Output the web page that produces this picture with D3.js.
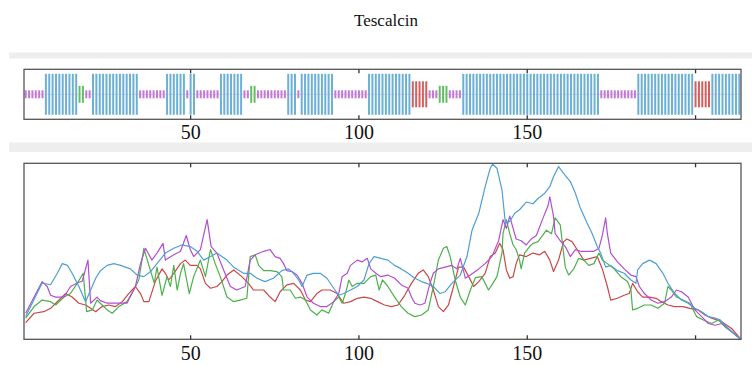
<!DOCTYPE html>
<html>
<head>
<meta charset="utf-8">
<script src="https://cdn.jsdelivr.net/npm/d3@7/dist/d3.min.js"></script>
<style>
  body { margin: 0; background: #fff; }
  svg { display: block; }
</style>
</head>
<body>
<div id="chart"></div>
<script>
// secondary structure segments: [type, first residue, last residue]
const ssSegments = [
  ['coil', 1, 6], ['helix', 7, 16], ['turn', 17, 18], ['coil', 19, 20],
  ['helix', 21, 34], ['coil', 35, 42], ['helix', 43, 48], ['coil', 49, 49],
  ['helix', 50, 51], ['coil', 52, 58], ['helix', 59, 65], ['coil', 66, 67],
  ['turn', 68, 69], ['coil', 70, 78], ['helix', 79, 81], ['coil', 82, 82],
  ['helix', 83, 92], ['coil', 93, 102], ['helix', 103, 115], ['strand', 116, 120],
  ['coil', 121, 123], ['turn', 124, 126], ['coil', 127, 130], ['helix', 131, 171],
  ['coil', 172, 182], ['helix', 183, 199], ['strand', 200, 204], ['helix', 205, 213]
];
const tickValues = [50, 100, 150, 200];
const tickLabels = ['50', '100', '150', ''];

// profile series: [residue, value]
const blueSeries = [
  [1, 0.13], [5.9, 0.32], [8.4, 0.31], [10.4, 0.375], [11.9, 0.43], [13.4, 0.42], [14.8, 0.375],
  [16.8, 0.30], [18.8, 0.214], [20.3, 0.28], [21.8, 0.347], [23.2, 0.39], [25.2, 0.42], [27.2, 0.43],
  [29.2, 0.42], [32.1, 0.40], [34.1, 0.365], [36.1, 0.356], [38.1, 0.385], [40, 0.43], [42.5, 0.49],
  [45, 0.517], [47.4, 0.536], [49.9, 0.527], [51.9, 0.50], [53.9, 0.45], [55.9, 0.47], [57.8, 0.49],
  [60.8, 0.45], [62.8, 0.41], [65.7, 0.375], [67.7, 0.375], [69.7, 0.347], [72.1, 0.328], [74.6, 0.347],
  [77.1, 0.39], [79.1, 0.40], [80.6, 0.375], [82.1, 0.337], [83.1, 0.30], [84.6, 0.365], [86.5, 0.375],
  [88.5, 0.375], [90.5, 0.347], [92.5, 0.29], [94, 0.25], [95.5, 0.26], [97.5, 0.28], [99.5, 0.30],
  [101.5, 0.337], [103, 0.43], [104.5, 0.47], [106.5, 0.46], [108.6, 0.45], [110.6, 0.42], [112.6, 0.40],
  [114.6, 0.375], [116.6, 0.347], [118.6, 0.328], [120.1, 0.318], [122.1, 0.30], [124.1, 0.26],
  [125.6, 0.27], [127.6, 0.318], [130.1, 0.365], [132.1, 0.47], [133.6, 0.62], [135.6, 0.716],
  [137.5, 0.867], [139, 0.972], [139.7, 0.995], [141, 0.972], [142.5, 0.848], [143.5, 0.66],
  [144.8, 0.67], [146.3, 0.716], [147.7, 0.736], [149.7, 0.78], [151.7, 0.77], [153.2, 0.80],
  [155.2, 0.83], [156.7, 0.867], [157.8, 0.924], [159.3, 0.981], [160.8, 0.943], [162.8, 0.896],
  [164.3, 0.83], [165.8, 0.744], [167.8, 0.66], [169.3, 0.60], [170.8, 0.527], [171.8, 0.49],
  [173.3, 0.41], [174.8, 0.42], [176.8, 0.39], [178.8, 0.375], [180.8, 0.337], [182.3, 0.318],
  [182.8, 0.394], [184.3, 0.43], [186.3, 0.45], [188.3, 0.43], [190.3, 0.375], [191.8, 0.318],
  [193.8, 0.26], [195.8, 0.223], [197.8, 0.205], [199.8, 0.176], [201.8, 0.157], [203.8, 0.129],
  [205.8, 0.12], [207.3, 0.11], [209.8, 0.06], [211.8, 0.025], [213.5, 0]
];
const purpleSeries = [
  [1, 0.148], [5.9, 0.328], [7.4, 0.30], [8.4, 0.25], [9.9, 0.24], [12.4, 0.24], [14.3, 0.30],
  [16.3, 0.32], [17.8, 0.33], [19.5, 0.45], [20.3, 0.205], [22.2, 0.24], [23.2, 0.22], [25.2, 0.205],
  [28.7, 0.205], [31.1, 0.205], [33.6, 0.30], [35.1, 0.43], [36.6, 0.517], [38.5, 0.45], [40, 0.49],
  [41.8, 0.545], [42.5, 0.45], [45, 0.48], [47, 0.50], [48.7, 0.59], [49.9, 0.51], [50.9, 0.47],
  [52.9, 0.51], [54.9, 0.68], [56.1, 0.527], [57.8, 0.49], [59.8, 0.394], [61.8, 0.30], [63.7, 0.28],
  [66.2, 0.30], [67.7, 0.45], [69.2, 0.48], [71.7, 0.50], [73.6, 0.51], [75.1, 0.47], [76.6, 0.46],
  [77.6, 0.43], [78.6, 0.39], [80.1, 0.385], [81.6, 0.365], [83.1, 0.318], [84.6, 0.24], [86.5, 0.205],
  [88.5, 0.186], [90.5, 0.186], [92.5, 0.214], [94, 0.26], [95, 0.356], [96.5, 0.375], [97.5, 0.42],
  [99.5, 0.45], [101, 0.44], [102.5, 0.46], [103.5, 0.40], [105, 0.375], [106.5, 0.356], [108.6, 0.365],
  [110.6, 0.347], [112.6, 0.309], [114.6, 0.29], [115.6, 0.24], [116.6, 0.205], [118.1, 0.195],
  [119.6, 0.205], [121.1, 0.318], [122.1, 0.375], [123.6, 0.40], [125.6, 0.41], [127.6, 0.42],
  [129.1, 0.40], [130.1, 0.46], [130.8, 0.41], [131.6, 0.347], [133.1, 0.365], [135.6, 0.40],
  [137.5, 0.43], [139.5, 0.47], [141.5, 0.56], [142.8, 0.68], [143.8, 0.63], [144.8, 0.70],
  [145.8, 0.63], [146.7, 0.57], [148.2, 0.56], [149.7, 0.536], [151.2, 0.57], [152.7, 0.59],
  [154.7, 0.69], [156.2, 0.76], [156.7, 0.81], [157.8, 0.70], [158.3, 0.60], [159.8, 0.56],
  [161.3, 0.527], [162.8, 0.47], [164.3, 0.51], [165.8, 0.50], [167.8, 0.50], [169.8, 0.50],
  [171.3, 0.517], [172.3, 0.59], [173.3, 0.69], [173.8, 0.60], [174.8, 0.49], [176.8, 0.44],
  [178.8, 0.40], [180.8, 0.365], [182.3, 0.356], [183.3, 0.30], [184.8, 0.26], [186.8, 0.223],
  [188.8, 0.205], [190.8, 0.214], [192.8, 0.24], [194.3, 0.28], [195.8, 0.27], [197.8, 0.24],
  [199.8, 0.167], [201.8, 0.129], [203.8, 0.09], [205.8, 0.08], [207.8, 0.09], [209.8, 0.06],
  [211.8, 0.025], [213.5, 0]
];
const greenSeries = [
  [1, 0.12], [3.5, 0.186], [5.9, 0.223], [8.4, 0.214], [9.9, 0.195], [12.4, 0.24], [14.3, 0.26],
  [16.3, 0.318], [18.1, 0.375], [19.1, 0.157], [20.8, 0.167], [22.2, 0.223], [23.7, 0.195],
  [25.2, 0.167], [26.7, 0.148], [28.7, 0.186], [31.1, 0.214], [33.1, 0.28], [34.6, 0.337],
  [36.1, 0.517], [37.6, 0.42], [39.2, 0.32], [40, 0.41], [41.5, 0.25], [43, 0.356], [44, 0.30],
  [45, 0.42], [46, 0.28], [47, 0.375], [47.9, 0.43], [49.6, 0.26], [50.9, 0.356], [52.9, 0.45],
  [54.4, 0.356], [55.9, 0.51], [57.3, 0.43], [58.8, 0.356], [60.8, 0.24], [62.8, 0.214],
  [64.7, 0.223], [66.7, 0.233], [67.7, 0.47], [69.2, 0.48], [70.2, 0.42], [71.7, 0.39], [73.6, 0.39],
  [75.6, 0.385], [77.1, 0.356], [77.6, 0.28], [79.6, 0.28], [81.1, 0.233], [82.6, 0.24], [84.1, 0.223],
  [85.6, 0.167], [87.5, 0.138], [89, 0.167], [91, 0.148], [92.5, 0.214], [94, 0.24], [95, 0.205],
  [96, 0.26], [97, 0.337], [98, 0.30], [99.5, 0.318], [101.5, 0.318], [103.5, 0.356], [105, 0.365],
  [106, 0.28], [107, 0.337], [108.6, 0.30], [110.6, 0.24], [112.6, 0.186], [114.6, 0.148],
  [116.6, 0.129], [118.6, 0.138], [120.6, 0.167], [122.1, 0.30], [123.6, 0.45], [125.1, 0.517],
  [126.1, 0.527], [127.1, 0.47], [128.6, 0.337], [130.1, 0.24], [131.6, 0.195], [133.1, 0.28],
  [134.6, 0.35], [136.5, 0.356], [138.5, 0.28], [139.5, 0.309], [141, 0.356], [142.5, 0.49],
  [142.8, 0.60], [143.8, 0.68], [144.8, 0.60], [145.8, 0.536], [146.7, 0.51], [147.7, 0.45],
  [148.2, 0.40], [149.2, 0.49], [150.7, 0.527], [151.7, 0.545], [153.2, 0.555], [154.2, 0.58],
  [155.7, 0.62], [157.2, 0.60], [158.3, 0.69], [159.8, 0.65], [161.3, 0.41], [162.3, 0.365],
  [163.8, 0.40], [165.3, 0.46], [166.8, 0.45], [168.3, 0.42], [169.8, 0.43], [171.3, 0.49],
  [172.3, 0.45], [173.8, 0.43], [175.8, 0.40], [177.8, 0.356], [179.8, 0.328], [180.8, 0.28],
  [181.3, 0.167], [182.8, 0.176], [184.8, 0.195], [186.8, 0.195], [188.8, 0.176], [190.8, 0.205],
  [191.8, 0.30], [192.8, 0.28], [194.3, 0.24], [196.3, 0.223], [198.3, 0.205], [200.3, 0.129],
  [202.3, 0.11], [204.8, 0.09], [206.8, 0.11], [208.8, 0.07], [211.8, 0.025], [213.5, 0]
];
const redSeries = [
  [1, 0.095], [3.5, 0.148], [6.4, 0.157], [8.4, 0.176], [10.9, 0.223], [12.9, 0.26], [14.8, 0.24],
  [16.8, 0.205], [18.8, 0.195], [20.3, 0.176], [21.8, 0.157], [23.7, 0.186], [25.7, 0.195],
  [27.7, 0.186], [29.7, 0.214], [31.6, 0.26], [33.6, 0.30], [35.1, 0.26], [36.1, 0.214], [37.6, 0.214],
  [39.5, 0.328], [41.5, 0.40], [42.5, 0.375], [43.5, 0.337], [45, 0.375], [47, 0.43], [48.4, 0.45],
  [49.9, 0.42], [51.9, 0.42], [52.9, 0.40], [54.4, 0.318], [55.9, 0.29], [57.8, 0.30], [59.3, 0.328],
  [60.8, 0.365], [62.8, 0.394], [65.2, 0.356], [67.2, 0.318], [68.7, 0.28], [69.7, 0.28], [71.7, 0.28],
  [73.6, 0.24], [75.1, 0.214], [76.6, 0.27], [78.6, 0.309], [80.6, 0.318], [82.6, 0.28], [84.1, 0.223],
  [85.6, 0.214], [87.5, 0.26], [89, 0.28], [91.5, 0.28], [93.5, 0.26], [95.5, 0.205], [97.5, 0.214],
  [99.5, 0.233], [101.5, 0.24], [103.5, 0.233], [105.5, 0.214], [107.6, 0.195], [109.6, 0.186],
  [111.6, 0.195], [113.6, 0.25], [115.6, 0.318], [117.6, 0.375], [119.1, 0.394], [120.6, 0.356],
  [122.1, 0.28], [123.6, 0.186], [125.1, 0.157], [126.6, 0.195], [128.1, 0.30], [129.6, 0.41],
  [131.1, 0.41], [132.6, 0.356], [134.1, 0.30], [135.6, 0.328], [137.5, 0.375], [139, 0.47],
  [140.5, 0.49], [141.8, 0.545], [142.8, 0.51], [143.8, 0.394], [144.8, 0.347], [145.8, 0.356],
  [146.7, 0.43], [147.7, 0.48], [149.7, 0.47], [151.7, 0.49], [153.7, 0.48], [155.2, 0.50],
  [156.7, 0.45], [157.8, 0.385], [159.3, 0.45], [160.8, 0.555], [161.8, 0.57], [163.3, 0.555],
  [164.8, 0.51], [166.8, 0.45], [168.8, 0.46], [170.8, 0.47], [172.3, 0.40], [173.8, 0.30],
  [174.8, 0.223], [176.8, 0.233], [178.8, 0.25], [180.3, 0.26], [181.3, 0.318], [182.8, 0.27],
  [184.3, 0.24], [186.3, 0.24], [188.3, 0.233], [189.8, 0.214], [191.8, 0.195], [193.8, 0.186],
  [196.3, 0.186], [198.3, 0.176], [200.8, 0.167], [202.8, 0.138], [204.8, 0.12], [207.8, 0.10],
  [210.8, 0.06], [213.5, 0]
];

const ssColor = { helix: '#6cb0d6', coil: '#c479d6', turn: '#62c062', strand: '#d45f5f' };
const ssHalf = { helix: 20.5, coil: 4, turn: 8.5, strand: 13 };

const width = 752, height = 365;
const left = 24, right = 741;
const serif = '"Liberation Serif", "Times New Roman", serif';

const svg = d3.select('#chart').append('svg').attr('width', width).attr('height', height);

svg.append('text')
  .attr('x', 386).attr('y', 26)
  .attr('text-anchor', 'middle')
  .attr('font-family', serif).attr('font-size', 17)
  .attr('fill', '#111')
  .text('Tescalcin');

// light separator bands
svg.append('rect').attr('x', 9).attr('y', 52.5).attr('width', width - 9).attr('height', 6).attr('fill', '#eeeeee');
svg.append('rect').attr('x', 9).attr('y', 142.5).attr('width', width - 9).attr('height', 9.5).attr('fill', '#eeeeee');

const x = d3.scaleLinear().domain([0.5, 213.5]).range([left, right]);

// ---- secondary structure track ----
const trackTop = 69.3, trackBottom = 119.3;
const trackMid = (trackTop + trackBottom) / 2;

const residues = ssSegments.flatMap(([type, a, b]) => d3.range(a, b + 1).map((r) => ({ r, type })));

const track = svg.append('g');
track.append('line')
  .attr('x1', x(0.5)).attr('x2', x(213.5))
  .attr('y1', trackMid).attr('y2', trackMid)
  .attr('stroke', ssColor.coil).attr('stroke-opacity', 0.35).attr('stroke-width', 1);

track.selectAll('rect.ss').data(residues).join('rect')
  .attr('class', 'ss')
  .attr('x', (d) => x(d.r) - 1)
  .attr('width', 2)
  .attr('y', (d) => trackMid - ssHalf[d.type])
  .attr('height', (d) => ssHalf[d.type] * 2)
  .attr('fill', (d) => ssColor[d.type]);

track.append('rect')
  .attr('x', left).attr('y', trackTop)
  .attr('width', right - left).attr('height', trackBottom - trackTop)
  .attr('fill', 'none').attr('stroke', '#555').attr('stroke-width', 1.3);

function frameTicks(g, top, bottom, labelY) {
  tickValues.forEach((t, i) => {
    g.append('line').attr('x1', x(t)).attr('x2', x(t)).attr('y1', top).attr('y2', top + 4)
      .attr('stroke', '#333').attr('stroke-width', 1.3);
    g.append('line').attr('x1', x(t)).attr('x2', x(t)).attr('y1', bottom).attr('y2', bottom - 4)
      .attr('stroke', '#333').attr('stroke-width', 1.3);
    if (tickLabels[i]) {
      g.append('text').attr('x', x(t)).attr('y', labelY)
        .attr('text-anchor', 'middle')
        .attr('font-family', serif).attr('font-size', 20)
        .attr('fill', '#111')
        .text(tickLabels[i]);
    }
  });
}
frameTicks(track, trackTop, trackBottom, 138.5);

// ---- profile plot ----
const plotTop = 163.3, plotBottom = 339.3;
const y = d3.scaleLinear().domain([0, 1]).range([plotBottom, plotTop]);

const plot = svg.append('g');
const line = d3.line().x((d) => x(d[0])).y((d) => y(d[1]));

const series = [
  { data: redSeries, color: '#c94848' },
  { data: greenSeries, color: '#4cb04c' },
  { data: purpleSeries, color: '#b24ed2' },
  { data: blueSeries, color: '#4f9fd2' }
];

plot.selectAll('path.profile').data(series).join('path')
  .attr('class', 'profile')
  .attr('d', (d) => line(d.data))
  .attr('fill', 'none')
  .attr('stroke', (d) => d.color)
  .attr('stroke-width', 1.2)
  .attr('stroke-linejoin', 'round');

plot.append('rect')
  .attr('x', left).attr('y', plotTop)
  .attr('width', right - left).attr('height', plotBottom - plotTop)
  .attr('fill', 'none').attr('stroke', '#555').attr('stroke-width', 1.3);

frameTicks(plot, plotTop, plotBottom, 360);
</script>
</body>
</html>
